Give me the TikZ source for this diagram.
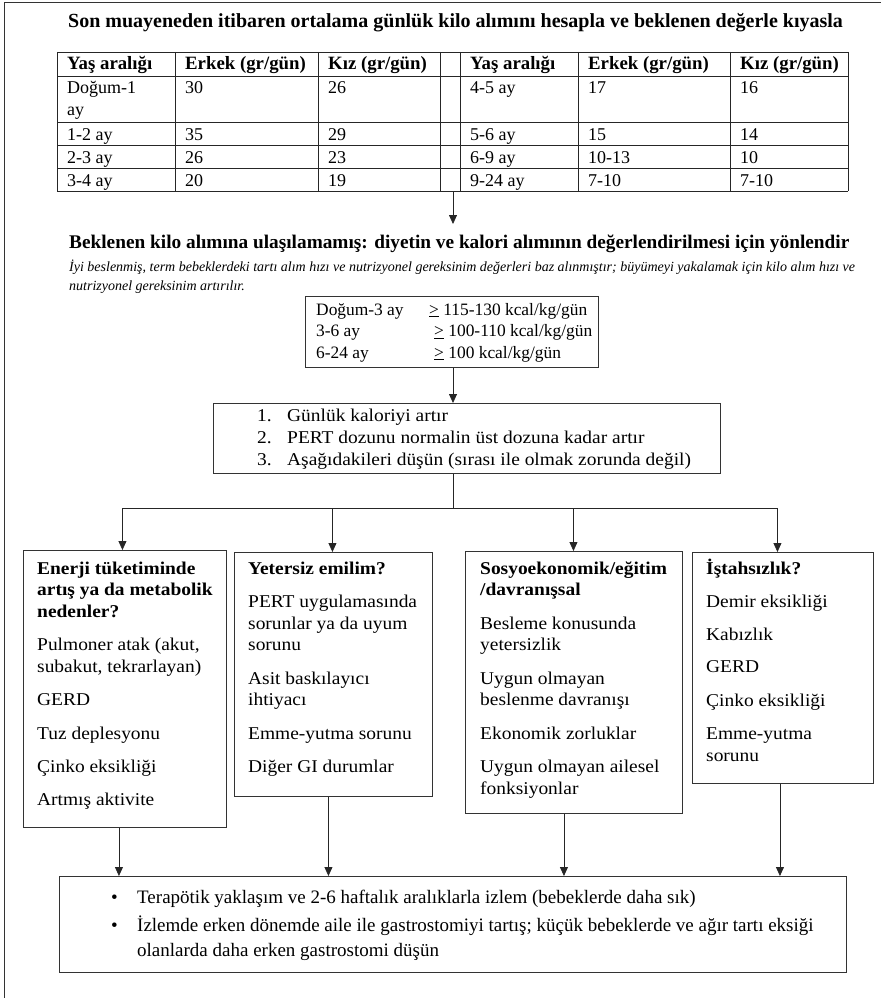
\documentclass[tikz,border=0pt]{standalone}
\usepackage{fontspec}
\setmainfont{Liberation Serif}
\newfontfamily\kutufont[FakeStretch=1.08]{Liberation Serif}
\usetikzlibrary{arrows.meta, positioning}

\begin{document}
\begin{tikzpicture}[
    x=1pt, y=-1pt,
    cizgi/.style={draw=black!85, line width=0.8pt},
    kutu/.style={draw=black!80, line width=0.9pt, anchor=north west, inner sep=0pt},
    ok/.style={-{Triangle[length=9pt, width=8pt]}, line width=0.8pt, black!85},
    baslik/.style={font=\bfseries\fontsize{19.3}{22}\selectfont, anchor=base west, inner sep=0pt},
    hucre/.style={font=\fontsize{18}{22}\selectfont, anchor=base west, inner sep=0pt},
    hucrebas/.style={hucre, font=\bfseries\fontsize{18.8}{22}\selectfont},
    aciklama/.style={font=\itshape\fontsize{14}{19}\selectfont, anchor=base west, inner sep=0pt},
    kalem/.style={font=\kutufont\fontsize{18}{22}\selectfont, anchor=base west, inner sep=0pt},
    madde/.style={kalem, font=\kutufont\fontsize{18}{21.5}\selectfont}
  ]
    \useasboundingbox (0,0) rectangle (881,998);

    % dis cerceve
    \draw[black!80, line width=1pt] (4,998) -- (4,3) -- (881,3);

    % baslik
    \node[baslik, font=\bfseries\fontsize{20}{22}\selectfont] (soru) at (68,28) {Son muayeneden itibaren ortalama günlük kilo alımını hesapla ve beklenen değerle kıyasla};

    % tablo
    \foreach \xx in {57,175,318,440,460,578,730,848}
      \draw[cizgi] (\xx,52) -- (\xx,191);
    \foreach \yy in {52,76,122,145,168,191}
      \draw[cizgi] (57,\yy) -- (848,\yy);

    \foreach \xx/\t [count=\j] in {67/Yaş aralığı, 185/{Erkek (gr/gün)}, 328/{Kız (gr/gün)},
                                    470/Yaş aralığı, 588/{Erkek (gr/gün)}, 740/{Kız (gr/gün)}}
      \node[hucrebas] (bas\j) at (\xx,70) {\t};

    \foreach \yy/\a/\b/\c/\d/\e/\f [count=\i] in {
        93/Doğum-1/30/26/4-5 ay/17/16,
        140/1-2 ay/35/29/5-6 ay/15/14,
        163/2-3 ay/26/23/6-9 ay/10-13/10,
        186/3-4 ay/20/19/9-24 ay/7-10/7-10}
    {
      \node[hucre] (s\i-1) at (67,\yy)  {\a};
      \node[hucre] (s\i-2) at (185,\yy) {\b};
      \node[hucre] (s\i-3) at (328,\yy) {\c};
      \node[hucre] (s\i-4) at (470,\yy) {\d};
      \node[hucre] (s\i-5) at (588,\yy) {\e};
      \node[hucre] (s\i-6) at (740,\yy) {\f};
    }
    \node[hucre] (s1-1b) at (67,115) {ay};

    % yonlendirme
    \coordinate (tabloalt) at (453,191);
    \coordinate (yonust) at (453,224);
    \draw[ok] (tabloalt) -- (yonust);
    \node[baslik] (yonlendir) at (69,248) {Beklenen kilo alımına ulaşılamamış: diyetin ve kalori alımının değerlendirilmesi için yönlendir};
    \node[aciklama] (not1) at (69,271) {İyi beslenmiş, term bebeklerdeki tartı alım hızı ve nutrizyonel gereksinim değerleri baz alınmıştır; büyümeyi yakalamak için kilo alım hızı ve};
    \node[aciklama] (not2) at (69,290) {nutrizyonel gereksinim artırılır.};

    % kalori kutusu
    \coordinate (dal) at (453,508);
    \node[kutu, minimum width=293, minimum height=71] (kalori) at (305,296) {};
    \node[kalem, font=\fontsize{17.4}{21.5}\selectfont] (kaloriyazi) at (316,315)
      {\begin{tabular}[t]{@{}p{113pt}@{}l@{}}
        Doğum-3 ay & \underline{>} 115-130 kcal/kg/gün\\
        3-6 ay     & \hspace{5pt}\underline{>} 100-110 kcal/kg/gün\\
        6-24 ay    & \hspace{5pt}\underline{>} 100 kcal/kg/gün
       \end{tabular}};

    % adimlar
    \node[kutu, minimum width=507, minimum height=70] (adimlar) at (213,403) {};
    \node[kalem] (adimyazi) at (257,421)
      {\begin{tabular}[t]{@{}p{30pt}@{}l@{}}
        1. & Günlük kaloriyi artır\\
        2. & PERT dozunu normalin üst dozuna kadar artır\\
        3. & Aşağıdakileri düşün (sırası ile olmak zorunda değil)
       \end{tabular}};
    \draw[ok] (kalori.south -| dal) -- (adimlar.north -| dal);

    % nedenler
    \node[kutu, minimum width=203, minimum height=277] (enerji) at (23,550) {};
    \node[kutu, minimum width=198, minimum height=244] (emilim) at (234,552) {};
    \node[kutu, minimum width=217, minimum height=262] (sosyo)  at (465,551) {};
    \node[kutu, minimum width=181, minimum height=231] (istah)  at (692,552) {};

    \node[madde] (enerjiyazi) at (37,574)
      {\begin{tabular}[t]{@{}l@{}}
        \textbf{Enerji tüketiminde}\\ \textbf{artış ya da metabolik}\\ \textbf{nedenler?}\\[12pt]
        Pulmoner atak (akut,\\ subakut, tekrarlayan)\\[12pt]
        GERD\\[12pt] Tuz deplesyonu\\[12pt] Çinko eksikliği\\[11pt] Artmış aktivite
       \end{tabular}};
    \node[madde] (emilimyazi) at (248,574)
      {\begin{tabular}[t]{@{}l@{}}
        \textbf{Yetersiz emilim?}\\[12pt]
        PERT uygulamasında\\ sorunlar ya da uyum\\ sorunu\\[12pt]
        Asit baskılayıcı\\ ihtiyacı\\[12pt]
        Emme-yutma sorunu\\[12pt] Diğer GI durumlar
       \end{tabular}};
    \node[madde] (sosyoyazi) at (480,574)
      {\begin{tabular}[t]{@{}l@{}}
        \textbf{Sosyoekonomik/eğitim}\\ \textbf{/davranışsal}\\[12pt]
        Besleme konusunda\\ yetersizlik\\[12pt]
        Uygun olmayan\\ beslenme davranışı\\[12pt]
        Ekonomik zorluklar\\[12pt]
        Uygun olmayan ailesel\\ fonksiyonlar
       \end{tabular}};
    \node[madde] (istahyazi) at (706,574)
      {\begin{tabular}[t]{@{}l@{}}
        \textbf{İştahsızlık?}\\[12pt]
        Demir eksikliği\\[11pt] Kabızlık\\[11pt] GERD\\[12pt] Çinko eksikliği\\[12pt]
        Emme-yutma\\ sorunu
       \end{tabular}};

    \draw[cizgi] (adimlar.south -| dal) -- (dal);
    \draw[cizgi] ([xshift=-2.5]enerji.north |- dal) -- ([xshift=-5.5]istah.north |- dal);
    \foreach \k/\s in {enerji/-2.5, emilim/-1, sosyo/-0.5, istah/-5.5}
      \draw[ok] ([xshift=\s]\k.north |- dal) -- ([xshift=\s]\k.north);

    % sonuc
    \node[kutu, minimum width=787, minimum height=96] (sonuc) at (59,876) {};
    \node[kalem, font=\fontsize{19}{25}\selectfont] (sonucyazi) at (111,903)
      {\begin{tabular}[t]{@{}p{26pt}@{}l@{}}
        • & Terapötik yaklaşım ve 2-6 haftalık aralıklarla izlem (bebeklerde daha sık)\\[3pt]
        • & İzlemde erken dönemde aile ile gastrostomiyi tartış; küçük bebeklerde ve ağır tartı eksiği\\
          & olanlarda daha erken gastrostomi düşün
       \end{tabular}};
    \foreach \k/\s in {enerji/-6, emilim/-5, sosyo/-10, istah/-3}
      \draw[ok] ([xshift=\s]\k.south) -- ([xshift=\s]\k.south |- sonuc.north);

  \end{tikzpicture}
\end{document}
